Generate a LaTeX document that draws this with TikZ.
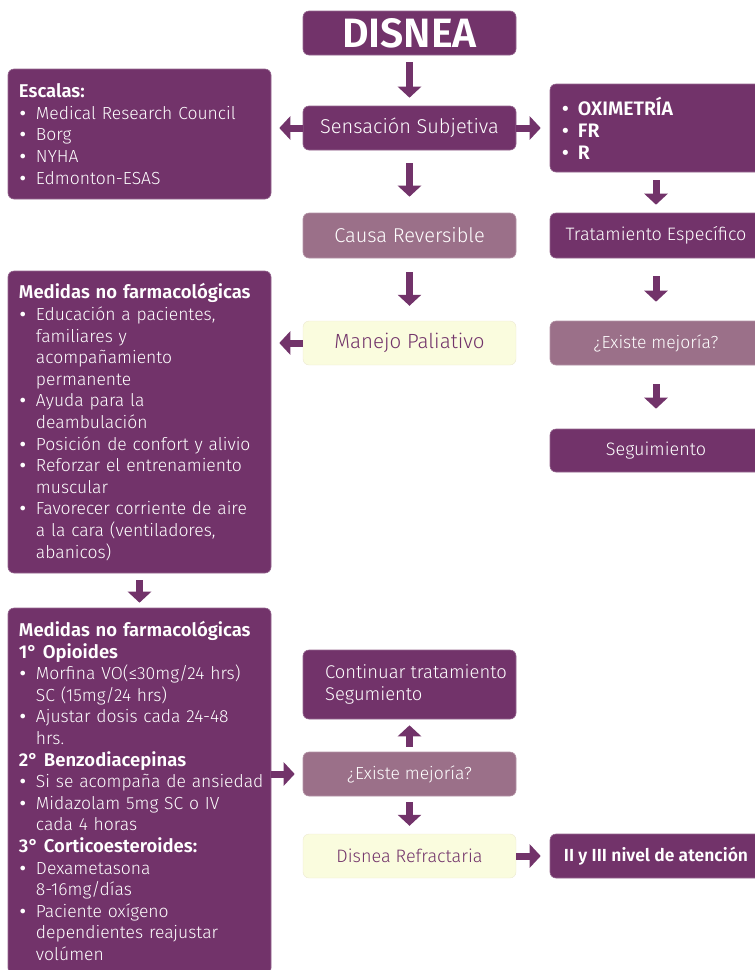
\documentclass[tikz,border=0pt]{standalone}
\usepackage{fontspec}
\setmainfont{Fira Sans}[UprightFont=* Light, BoldFont=* SemiBold]
\usetikzlibrary{arrows.meta}

\definecolor{dpurple}{RGB}{114,51,106}
\definecolor{mauve}{RGB}{155,112,137}
\definecolor{paleyel}{RGB}{250,252,222}

% bullet item, continuation line and heading inside the list boxes
\newcommand\itm[1]{\mbox{\makebox[17pt][l]{\hspace{1pt}\bfseries •}#1}}
\newcommand\cnt[1]{\mbox{\hspace*{17pt}#1}}
\newcommand\hd[1]{\mbox{\bfseries\fontsize{18.5}{21.6}\selectfont #1}}

\begin{document}
\begin{tikzpicture}[x=1pt,y=-1pt,
  box/.style={rounded corners=6pt, minimum width=213pt, minimum height=44pt,
    inner sep=0pt, align=center, font=\fontsize{20}{24}\selectfont},
  dark/.style={box, fill=dpurple, draw=dpurple!75!white, line width=0.6pt, text=white},
  mauve/.style={box, fill=mauve, draw=mauve!75!white, line width=0.6pt, text=white},
  pale/.style={box, fill=paleyel, draw=paleyel!90!dpurple, line width=0.4pt, text=dpurple},
  side/.style={minimum width=212pt},
  listbox/.style={dark, text width=241pt, inner xsep=11pt, align=left,
    font=\fontsize{17.5}{21.6}\selectfont},
  flow/.style={draw=dpurple, line width=7pt, -{Triangle[width=23pt,length=11pt]}},
]
\useasboundingbox (0,0) rectangle (755,970);

% central column
\node[dark, font=\bfseries\fontsize{41}{43}\selectfont] (disnea) at (409.5,33) {DISNEA};
\node[dark] (sens) at (409.5,128) {Sensación Subjetiva};
\node[mauve, minimum height=45pt] (causa) at (409.5,235.5) {Causa Reversible};
\node[pale, font=\fontsize{20.5}{24}\selectfont] (manejo) at (409.5,343) {Manejo Paliativo};

% right column
\node[dark, side, minimum height=88pt, text width=190pt, inner xsep=11pt, align=left,
  font=\bfseries\fontsize{19.5}{22}\selectfont] (oxi) at (656,128)
  {\itm{OXIMETRÍA}\\ \itm{FR}\\ \itm{R}};
\node[dark, side, minimum height=45pt, font=\fontsize{18}{21}\selectfont] (trat) at (656,235.5) {Tratamiento Específico};
\node[mauve, side, font=\fontsize{17.5}{20}\selectfont] (exist1) at (656,343) {¿Existe mejoría?};
\node[dark, side, minimum height=43pt, font=\fontsize{18}{20}\selectfont] (seg) at (656,450.5) {Seguimiento};

% left column
\node[listbox, minimum height=130pt] (escalas) at (139.5,134)
  {\hd{Escalas:}\\
   \itm{Medical Research Council}\\
   \itm{Borg}\\
   \itm{NYHA}\\
   \itm{Edmonton-ESAS}};

\node[listbox, minimum height=302pt] (med1) at (139.5,422)
  {\hd{Medidas no farmacológicas}\\
   \itm{Educación a pacientes,}\\
   \cnt{familiares y}\\
   \cnt{acompañamiento}\\
   \cnt{permanente}\\
   \itm{Ayuda para la}\\
   \cnt{deambulación}\\
   \itm{Posición de confort y alivio}\\
   \itm{Reforzar el entrenamiento}\\
   \cnt{muscular}\\
   \itm{Favorecer corriente de aire}\\
   \cnt{a la cara (ventiladores,}\\
   \cnt{abanicos)}};

\node[listbox, minimum height=366pt] (med2) at (139.5,791)
  {\hd{Medidas no farmacológicas}\\
   \hd{1° Opioides}\\
   \itm{Morfina VO(≤30mg/24 hrs)}\\
   \cnt{SC (15mg/24 hrs)}\\
   \itm{Ajustar dosis cada 24-48}\\
   \cnt{hrs.}\\
   \hd{2° Benzodiacepinas}\\
   \itm{Si se acompaña de ansiedad}\\
   \itm{Midazolam 5mg SC o IV}\\
   \cnt{cada 4 horas}\\
   \hd{3° Corticoesteroides:}\\
   \itm{Dexametasona}\\
   \cnt{8-16mg/días}\\
   \itm{Paciente oxígeno}\\
   \cnt{dependientes reajustar}\\
   \cnt{volúmen}};

% lower central column
\node[dark, minimum height=69pt, align=left, font=\fontsize{18.4}{22}\selectfont] (cont) at (409.5,684.5)
  {\hspace*{13pt}Continuar tratamiento\\\hspace*{13pt}Segumiento};
\node[mauve, font=\fontsize{17.5}{20}\selectfont] (exist2) at (409.5,774) {¿Existe mejoría?};
\node[pale, font=\fontsize{18}{20}\selectfont] (refr) at (409.5,856) {Disnea Refractaria};
\node[dark, side, font=\bfseries\fontsize{17.5}{21}\selectfont] (nivel) at (656,856) {II y III nivel de atención};

% connectors
\draw[flow, shorten <=7pt, shorten >=8pt] (disnea) -- (sens);
\draw[flow, shorten >=8pt] (sens.west) -- (sens.west -| escalas.east);
\draw[flow, shorten >=9pt] (sens.east) -- (sens.east -| oxi.west);
\draw[flow, shorten <=13pt, shorten >=16pt] (sens) -- (causa);
\draw[flow, shorten <=8pt, shorten >=8pt] (oxi) -- (trat);
\draw[flow, shorten <=14pt, shorten >=15pt] (causa) -- (manejo);
\draw[flow, shorten >=8pt] (manejo.west) -- (manejo.west -| med1.east);
\draw[flow, shorten <=18pt, shorten >=19pt] (trat) -- (exist1);
\draw[flow, shorten <=19pt, shorten >=20pt] (exist1) -- (seg);
\draw[flow, shorten <=7pt, shorten >=5pt] (med1) -- (med2);
\draw[flow, shorten >=8pt] (exist2.west -| med2.east) -- (exist2.west);
\draw[flow, shorten <=5pt, shorten >=6pt] (exist2) -- (cont);
\draw[flow, shorten <=6pt, shorten >=8pt] (exist2) -- (refr);
\draw[flow, shorten >=9pt] (refr.east) -- (refr.east -| nivel.west);
\end{tikzpicture}
\end{document}
